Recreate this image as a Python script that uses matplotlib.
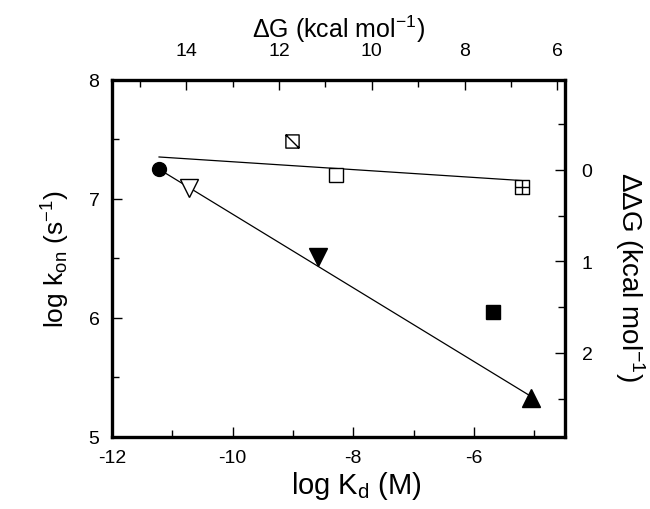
import numpy as np
import matplotlib
matplotlib.use('Agg')
import matplotlib.pyplot as plt
from matplotlib.path import Path

plt.rcParams['font.family'] = ['Liberation Sans', 'DejaVu Sans']
plt.rcParams['mathtext.default'] = 'regular'
plt.rcParams['axes.unicode_minus'] = False

# data: log Kd (M) vs log kon (s-1)
log_kd_circle, log_kon_circle = [-11.22], [7.25]
log_kd_vopen, log_kon_vopen = [-10.72], [7.09]
log_kd_vfill, log_kon_vfill = [-8.58], [6.51]
log_kd_diag, log_kon_diag = [-9.02], [7.49]
log_kd_sopen, log_kon_sopen = [-8.29], [7.20]
log_kd_cross, log_kon_cross = [-5.21], [7.10]
log_kd_sfill, log_kon_sfill = [-5.68], [6.05]
log_kd_tri, log_kon_tri = [-5.05], [5.33]

# fitted lines (end points)
fit1_x = [-11.22, -5.21]
fit1_y = [7.353, 7.155]
fit2_x = [-11.22, -5.05]
fit2_y = [7.25, 5.34]

# conversion factors for the second axes
rt_ln10 = 1.30      # kcal/mol per log unit
kon_ref = 7.245     # log kon where ddG = 0

# custom markers: square with diagonal, square with cross
M, L, C = Path.MOVETO, Path.LINETO, Path.CLOSEPOLY
sq = [(-1, -1), (1, -1), (1, 1), (-1, 1), (-1, -1)]
diag_marker = Path(sq + [(-1, 1), (1, -1)], [M, L, L, L, C, M, L])
cross_marker = Path(sq + [(-1, 0), (1, 0), (0, -1), (0, 1)],
                    [M, L, L, L, C, M, L, M, L])

fig = plt.figure(figsize=(6.5, 5.1), dpi=100)
ax = fig.add_axes([0.1723, 0.1412, 0.697, 0.700])

ax.plot(fit1_x, fit1_y, color='black', lw=0.9)
ax.plot(fit2_x, fit2_y, color='black', lw=0.9)

ax.plot(log_kd_circle, log_kon_circle, 'o', color='black', ms=10)
ax.plot(log_kd_vopen, log_kon_vopen, 'v', mfc='white', mec='black', mew=1.0, ms=12.5)
ax.plot(log_kd_vfill, log_kon_vfill, 'v', color='black', ms=12.5)
ax.plot(log_kd_diag, log_kon_diag, marker=diag_marker, ls='none', mfc='none',
        mec='black', mew=1.0, ms=9.5)
ax.plot(log_kd_sopen, log_kon_sopen, 's', mfc='white', mec='black', mew=1.0, ms=9.5)
ax.plot(log_kd_cross, log_kon_cross, marker=cross_marker, ls='none', mfc='white',
        mec='black', mew=1.0, ms=9.5)
ax.plot(log_kd_sfill, log_kon_sfill, 's', color='black', ms=9.5)
ax.plot(log_kd_tri, log_kon_tri, '^', color='black', ms=12.5)

ax.set_xlim(-12, -4.49)
ax.set_ylim(5, 8)
ax.set_xticks([-12, -10, -8, -6])
ax.set_xticks(np.arange(-12, -4, 1), minor=True)
ax.set_yticks([5, 6, 7, 8])
ax.set_yticks(np.arange(5, 8.01, 0.5), minor=True)
ax.tick_params(which='both', direction='in', labelsize=14, width=1.0)
ax.tick_params(which='major', length=7, pad=9)
ax.tick_params(which='minor', length=5)
for s in ax.spines.values():
    s.set_linewidth(2.4)

ax.set_xlabel('log K$_d$ (M)', fontsize=21, labelpad=2)
ax.xaxis.set_label_coords(0.54, -0.09)
ax.set_ylabel('log k$_{on}$ (s$^{-1}$)', fontsize=19, labelpad=12)

top = ax.secondary_xaxis('top', functions=(lambda x: -rt_ln10 * x,
                                           lambda g: -g / rt_ln10))
top.set_xticks([14, 12, 10, 8, 6])
top.set_xticks(np.arange(6, 16, 1), minor=True)
top.tick_params(which='both', direction='in', labelsize=14, width=1.0)
top.tick_params(which='major', length=7, pad=15)
top.tick_params(which='minor', length=5)
top.set_xlabel('ΔG (kcal mol$^{-1}$)', fontsize=18, labelpad=4)

right = ax.secondary_yaxis('right', functions=(lambda y: rt_ln10 * (kon_ref - y),
                                               lambda d: kon_ref - d / rt_ln10))
right.set_yticks([0, 1, 2])
right.set_yticks(np.arange(-0.5, 3.01, 0.5), minor=True)
right.tick_params(which='both', direction='in', labelsize=14, width=1.0)
right.tick_params(which='major', length=7, pad=12)
right.tick_params(which='minor', length=5)
right.set_ylabel('ΔΔG (kcal mol$^{-1}$)', fontsize=20, rotation=270,
                 va='center', ha='center')
right.yaxis.set_label_coords(1.143, 0.45, transform=ax.transAxes)

fig.savefig('out.png', dpi=100)
